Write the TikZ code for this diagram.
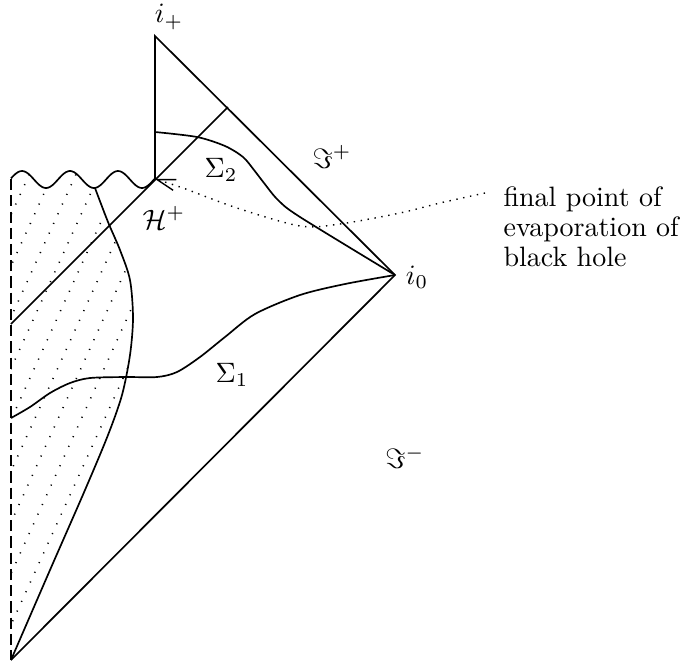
\documentclass[tikz,border=0pt]{standalone}
\usetikzlibrary{arrows.meta}
\begin{document}
\begin{tikzpicture}[
    x=0.357pt, y=-0.357pt,
    edge/.style={line width=0.6pt},
    centre/.style={line width=0.6pt, dash pattern=on 4pt off 1.8pt},
    hatch/.style={line width=0.55pt, dash pattern=on 0.4pt off 3.4pt},
    lbl/.style={inner sep=0pt},
    pointer/.style={dotted, line width=0.5pt, -{Straight Barb[length=6.5pt,width=4pt]}}
]
    \useasboundingbox (0,0) rectangle (686,662);
    \coordinate (iplus)  at (155,36);
    \coordinate (izero)  at (395,275);
    \coordinate (origin) at (11,660);
    \coordinate (evap)   at (155,179);
    \coordinate (sing)   at (11,179);
    \coordinate (hstart) at (11,324);
    \coordinate (hend)   at (228,107);
    \coordinate (tail)   at (485,193);

    % dotted hatching inside the collapsing star
    \begin{scope}
        \clip plot[smooth] coordinates {(11,660) (50,570) (85,490) (108,435) (122,395) (130,355) (133,318) (130,280) (120,250) (108,222) (95,188)}
            -- plot[domain=95:11, samples=60] (\x, {179.5-8.5*sin(7.5*(\x-10))}) -- cycle;
        \foreach \k in {-10,...,1}
            \draw[hatch] ({-5+23.3*\k},660) -- ++(240,-528);
    \end{scope}

    \draw[edge] (origin) -- (izero) -- (iplus) -- (evap);
    \draw[centre] (sing) -- (origin);
    \draw[edge] plot[domain=11:155, samples=90] (\x, {179.5-8.5*sin(7.5*(\x-10))});
    \draw[edge] (hstart) -- (hend);
    \draw[edge] plot[smooth] coordinates {(11,660) (50,570) (85,490) (108,435) (122,395) (130,355) (133,318) (130,280) (120,250) (108,222) (95,188)};
    \draw[edge] plot[smooth] coordinates {(11,418) (30,407) (50,393) (70,383) (90,378) (125,377) (157,377) (177,372) (200,357) (225,337) (255,314) (300,295) (345,284) (izero)};
    \draw[edge] plot[smooth] coordinates {(155,132) (197,137) (225,146) (243,157) (254,170) (264,183) (278,200) (300,217) (izero)};
    \draw[pointer] plot[smooth] coordinates {(tail) (440,203) (400,213) (340,224) (300,226) (237,208) (183,188) (evap)};

    \node[lbl] (iplusl) at (169,17)  {$i_+$};
    \node[lbl] (scrip)  at (332,157) {$\Im^+$};
    \node[lbl] (sigtwo) at (221,170) {$\Sigma_2$};
    \node[lbl] (hor)    at (164,218) {$\mathcal{H}^+$};
    \node[lbl] (izerol) at (417,277) {$i_0$};
    \node[lbl] (sigone) at (232,375) {$\Sigma_1$};
    \node[lbl] (scrim)  at (405,457) {$\Im^-$};
    \node[lbl, anchor=west, align=left] (note) at (503,227) {final point of\\[-1.3pt]evaporation of\\[-1.3pt]black hole};
\end{tikzpicture}
\end{document}
